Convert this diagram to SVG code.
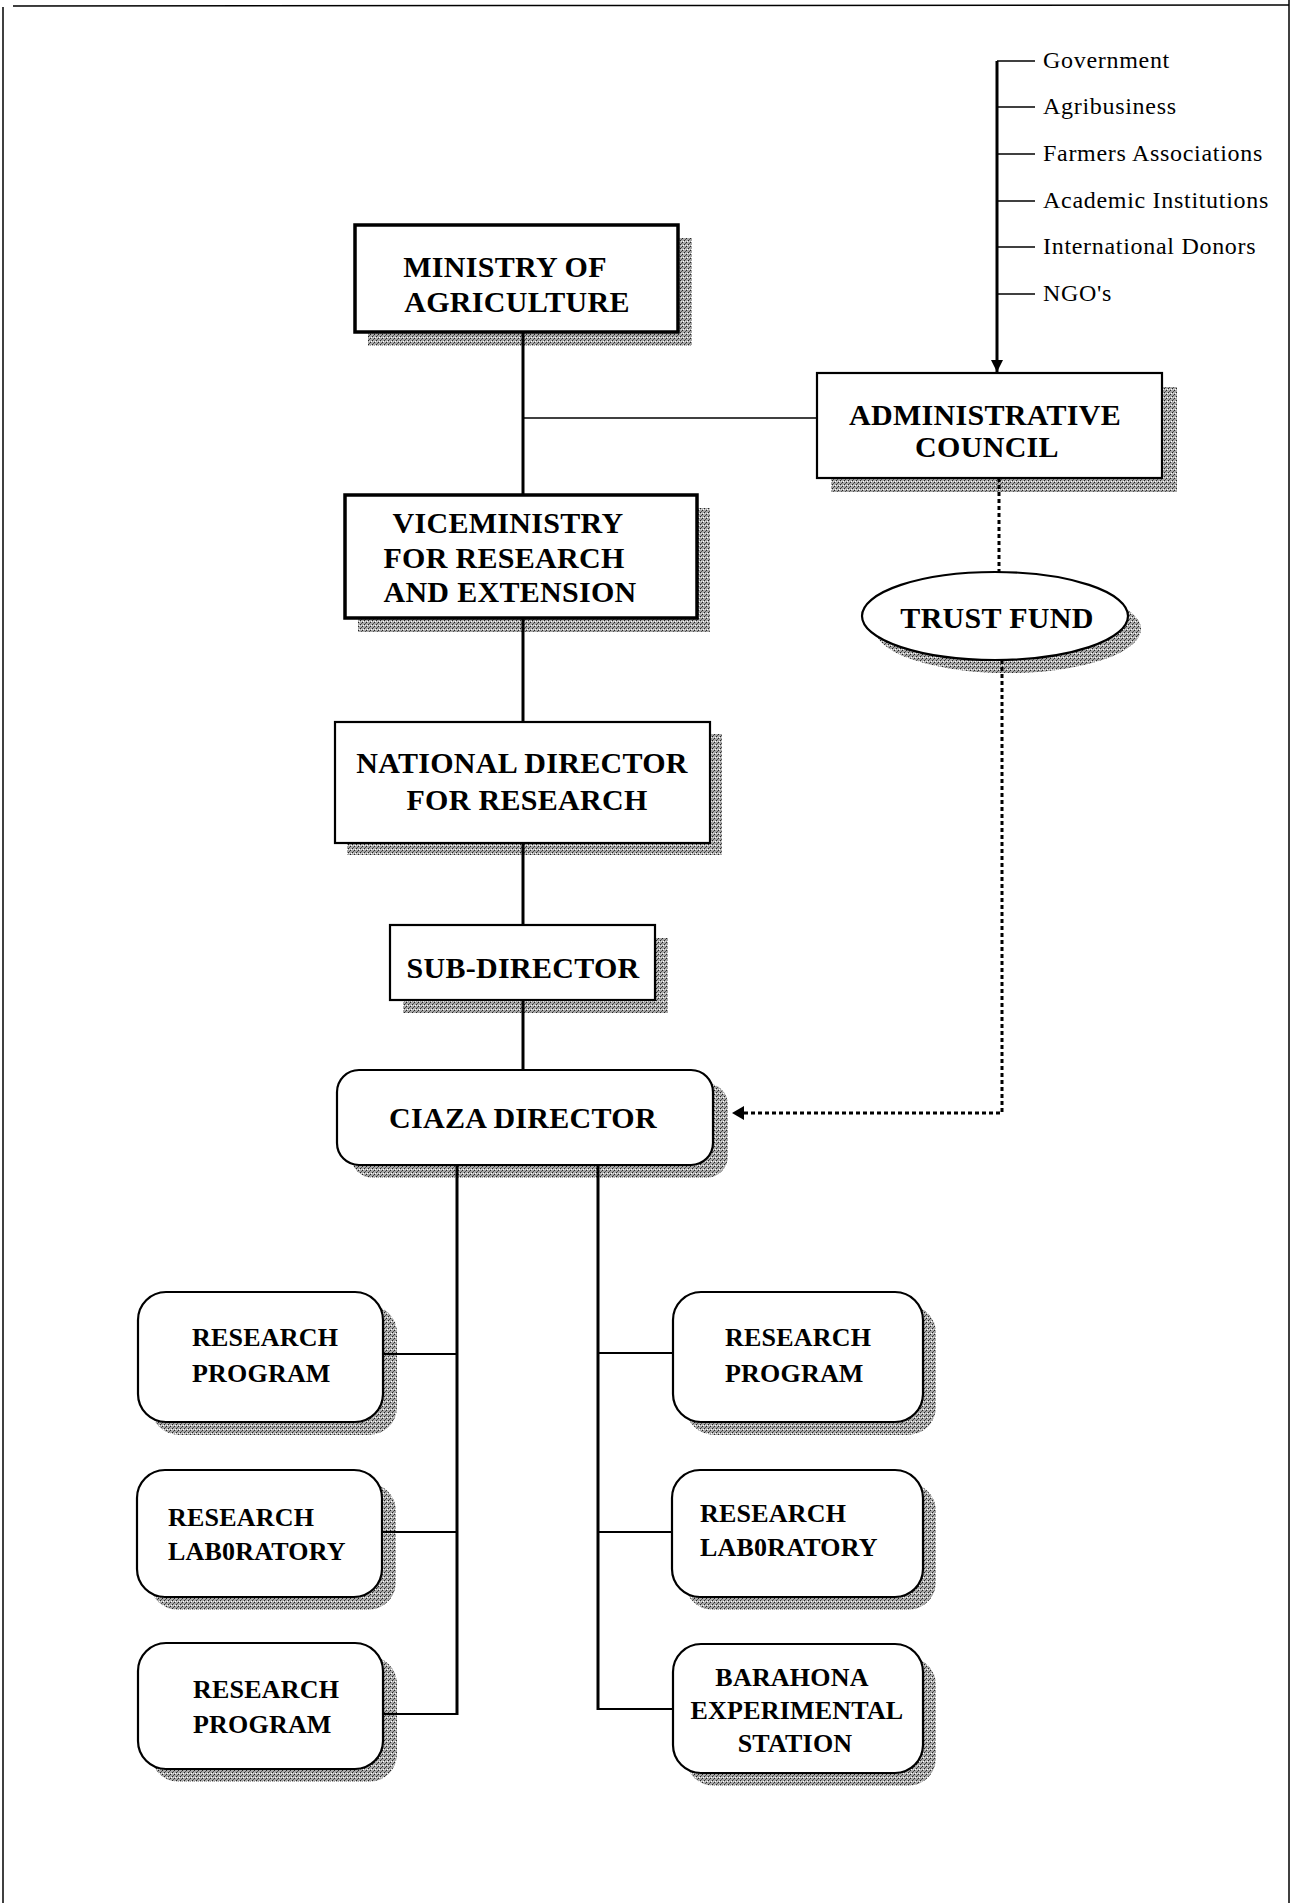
<svg xmlns="http://www.w3.org/2000/svg" width="1292" height="1903" viewBox="0 0 1292 1903">
<style>
.box{fill:#fff;stroke:#000;stroke-width:2.2}
.thick{stroke-width:3.5}
.sh{fill:url(#hatch)}
.t{font-family:"Liberation Serif","Times New Roman",serif;font-weight:bold;font-size:30px;fill:#000;letter-spacing:0.3px;text-anchor:middle}
.s{font-family:"Liberation Serif","Times New Roman",serif;font-weight:bold;font-size:26px;fill:#000;letter-spacing:0.2px}
.side{font-family:"Liberation Serif","Times New Roman",serif;font-size:24px;fill:#000;letter-spacing:0.7px}
.ln{stroke:#000;fill:none}
.dot{stroke:#000;fill:none;stroke-width:3;stroke-dasharray:4 3}
</style>
<defs>
<pattern id="hatch" width="4" height="4" patternUnits="userSpaceOnUse">
<rect width="4" height="4" fill="#a8a8a8"/>
<rect x="0" y="0" width="1" height="1" fill="#222"/>
<rect x="2" y="2" width="1" height="1" fill="#222"/>
<rect x="1" y="3" width="1" height="1" fill="#555"/>
<rect x="3" y="1" width="1" height="1" fill="#fff"/>
<rect x="1" y="1" width="1" height="1" fill="#e0e0e0"/>
</pattern>
<marker id="arr" viewBox="0 0 10 10" refX="10" refY="5" markerWidth="4" markerHeight="4" orient="auto" markerUnits="strokeWidth">
<path d="M0,0 L10,5 L0,10 z" fill="#000"/>
</marker>
</defs>
<rect width="1292" height="1903" fill="#fff"/>
<g id="page-border" class="ln" stroke-width="1.5">
<line x1="13" y1="6" x2="1289" y2="5"/>
<line x1="3" y1="7" x2="3" y2="1903"/>
<line x1="1289" y1="0" x2="1289" y2="1903"/>
</g>

<g id="stakeholders">
<text class="side" x="1043" y="68">Government</text>
<text class="side" x="1043" y="114">Agribusiness</text>
<text class="side" x="1043" y="161">Farmers Associations</text>
<text class="side" x="1043" y="208">Academic Institutions</text>
<text class="side" x="1043" y="254">International Donors</text>
<text class="side" x="1043" y="301">NGO's</text>
</g>

<g id="ministry">
<rect class="sh" x="368" y="238" width="324" height="108"/>
<rect class="box thick" x="355" y="225" width="323" height="107"/>
<text class="t" x="505" y="277">MINISTRY OF</text>
<text class="t" x="517" y="312">AGRICULTURE</text>
</g>

<g id="viceministry">
<rect class="sh" x="358" y="508" width="352" height="124"/>
<rect class="box thick" x="345" y="495" width="352" height="123"/>
<text class="t" x="508" y="533">VICEMINISTRY</text>
<text class="t" x="504" y="568">FOR RESEARCH</text>
<text class="t" x="510" y="602">AND EXTENSION</text>
</g>

<g id="admin-council">
<rect class="sh" x="831" y="387" width="346" height="105"/>
<rect class="box" x="817" y="373" width="345" height="105"/>
<text class="t" x="985" y="425">ADMINISTRATIVE</text>
<text class="t" x="987" y="457">COUNCIL</text>
</g>

<g id="trust-fund">
<ellipse class="sh" cx="1008" cy="629" rx="133" ry="44"/>
<ellipse class="box" cx="995" cy="616" rx="133" ry="44"/>
<text class="t" x="997" y="628">TRUST FUND</text>
</g>

<g id="national-director">
<rect class="sh" x="347" y="734" width="375" height="121"/>
<rect class="box" x="335" y="722" width="375" height="121"/>
<text class="t" x="522" y="773">NATIONAL DIRECTOR</text>
<text class="t" x="527" y="810">FOR RESEARCH</text>
</g>

<g id="sub-director">
<rect class="sh" x="403" y="938" width="265" height="75"/>
<rect class="box" x="390" y="925" width="265" height="75"/>
<text class="t" x="523" y="978">SUB-DIRECTOR</text>
</g>

<g id="ciaza-director">
<rect class="sh" x="351" y="1083" width="377" height="95" rx="22"/>
<rect class="box" x="337" y="1070" width="376" height="95" rx="22" stroke-width="2.6"/>
<text class="t" x="523" y="1128">CIAZA DIRECTOR</text>
</g>

<g id="left-program-1">
<rect class="sh" x="151" y="1305" width="246" height="130" rx="28"/>
<rect class="box" x="138" y="1292" width="245" height="130" rx="28" stroke-width="2.6"/>
<text class="s" x="192" y="1346">RESEARCH</text>
<text class="s" x="192" y="1382">PROGRAM</text>
</g>

<g id="left-laboratory">
<rect class="sh" x="150" y="1483" width="246" height="127" rx="28"/>
<rect class="box" x="137" y="1470" width="245" height="127" rx="28" stroke-width="2.6"/>
<text class="s" x="168" y="1526">RESEARCH</text>
<text class="s" x="168" y="1560">LAB0RATORY</text>
</g>

<g id="left-program-2">
<rect class="sh" x="151" y="1656" width="246" height="126" rx="28"/>
<rect class="box" x="138" y="1643" width="245" height="126" rx="28" stroke-width="2.6"/>
<text class="s" x="193" y="1698">RESEARCH</text>
<text class="s" x="193" y="1733">PROGRAM</text>
</g>

<g id="right-program">
<rect class="sh" x="686" y="1305" width="250" height="130" rx="28"/>
<rect class="box" x="673" y="1292" width="250" height="130" rx="28" stroke-width="2.6"/>
<text class="s" x="725" y="1346">RESEARCH</text>
<text class="s" x="725" y="1382">PROGRAM</text>
</g>

<g id="right-laboratory">
<rect class="sh" x="685" y="1483" width="251" height="127" rx="28"/>
<rect class="box" x="672" y="1470" width="251" height="127" rx="28" stroke-width="2.6"/>
<text class="s" x="700" y="1522">RESEARCH</text>
<text class="s" x="700" y="1556">LAB0RATORY</text>
</g>

<g id="barahona-station">
<rect class="sh" x="686" y="1657" width="250" height="129" rx="28"/>
<rect class="box" x="673" y="1644" width="250" height="129" rx="28" stroke-width="2.6"/>
<text class="s" x="792" y="1686" text-anchor="middle">BARAHONA</text>
<text class="s" x="797" y="1719" text-anchor="middle">EXPERIMENTAL</text>
<text class="s" x="795" y="1752" text-anchor="middle">STATION</text>
</g>

<g id="connectors">
<line class="ln" x1="997" y1="61" x2="997" y2="372" stroke-width="3" marker-end="url(#arr)"/>
<g class="ln" stroke-width="1.6">
<line x1="997" y1="61" x2="1035" y2="61"/>
<line x1="997" y1="107" x2="1035" y2="107"/>
<line x1="997" y1="154" x2="1035" y2="154"/>
<line x1="997" y1="201" x2="1035" y2="201"/>
<line x1="997" y1="247" x2="1035" y2="247"/>
<line x1="997" y1="294" x2="1035" y2="294"/>
</g>
<g class="ln" stroke-width="3">
<line x1="523" y1="332" x2="523" y2="495"/>
<line x1="523" y1="618" x2="523" y2="722"/>
<line x1="523" y1="843" x2="523" y2="925"/>
<line x1="523" y1="1000" x2="523" y2="1070"/>
<line x1="457" y1="1165" x2="457" y2="1715"/>
<line x1="598" y1="1165" x2="598" y2="1710"/>
</g>
<line class="ln" x1="523" y1="418" x2="817" y2="418" stroke-width="1.6"/>
<g class="ln" stroke-width="1.8">
<line x1="383" y1="1354" x2="457" y2="1354"/>
<line x1="382" y1="1532" x2="457" y2="1532"/>
<line x1="383" y1="1714" x2="457" y2="1714"/>
<line x1="598" y1="1353" x2="673" y2="1353"/>
<line x1="598" y1="1532" x2="672" y2="1532"/>
<line x1="598" y1="1709" x2="673" y2="1709"/>
</g>
<line class="dot" x1="999" y1="478" x2="999" y2="572"/>
<polyline class="dot" points="1002,660 1002,1113 742,1113"/>
<path d="M732,1113 L744,1106 L744,1120 z" fill="#000"/>
</g>
</svg>
